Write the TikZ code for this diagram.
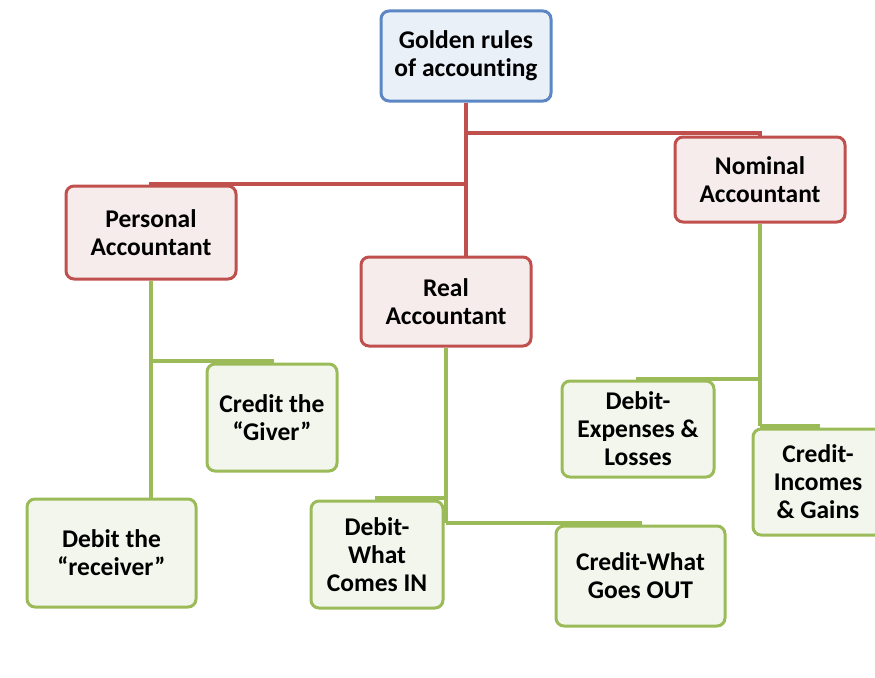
\documentclass[tikz,border=0pt]{standalone}
\usepackage{fontspec}
\setmainfont[Ligatures=NoCommon]{Carlito}
\usetikzlibrary{positioning}

\definecolor{rootdraw}{HTML}{5B87C4}
\definecolor{rootfill}{HTML}{EAF0F8}
\definecolor{acctdraw}{HTML}{C0504D}
\definecolor{acctfill}{HTML}{F6ECEB}
\definecolor{ruledraw}{HTML}{9BBB59}
\definecolor{rulefill}{HTML}{F3F6EC}

\tikzset{
  box/.style={rounded corners=8pt, line width=3pt, align=center, inner sep=0pt,
    font=\bfseries\fontsize{25.5}{28}\selectfont},
  rootbox/.style={box, draw=rootdraw, fill=rootfill},
  acctbox/.style={box, draw=acctdraw, fill=acctfill},
  rulebox/.style={box, draw=ruledraw, fill=rulefill},
  redlink/.style={draw=acctdraw, line width=3.4pt},
  greenlink/.style={draw=ruledraw, line width=3.4pt}
}

\begin{document}
\begin{tikzpicture}[x=1pt, y=-1pt]
  \useasboundingbox (0, 0) rectangle (875, 677);

  % branch points
  \coordinate (upper) at (466, 133);
  \coordinate (lower) at (466, 184);
  \coordinate (persjoin) at (151, 361);
  \coordinate (realjoin) at (446, 498);
  \coordinate (realjoinb) at (446, 523);
  \coordinate (nomjoin) at (760, 379);
  \coordinate (nomjoinb) at (760, 426);

  \node[rootbox, minimum width=170, minimum height=90] (root) at (466, 56)
    {Golden rules\\of accounting};

  \node[acctbox, minimum width=170, minimum height=93] (personal) at (151, 232.5)
    {Personal\\Accountant};
  \node[acctbox, minimum width=170, minimum height=89] (real) at (446, 301.5)
    {Real\\Accountant};
  \node[acctbox, minimum width=170, minimum height=85] (nominal) at (760, 179.5)
    {Nominal\\Accountant};

  \node[rulebox, minimum width=130, minimum height=107] (giver) at (272, 417.5)
    {Credit the\\“Giver”};
  \node[rulebox, minimum width=169, minimum height=108] (receiver) at (111.5, 553)
    {Debit the\\“receiver”};
  \node[rulebox, minimum width=132, minimum height=107] (comesin) at (377, 554.5)
    {Debit-\\What\\Comes IN};
  \node[rulebox, minimum width=169, minimum height=100] (goesout) at (640.5, 576)
    {Credit-What\\Goes OUT};
  \node[rulebox, minimum width=152, minimum height=96] (expenses) at (638, 429)
    {Debit-\\Expenses \&\\Losses};
  \node[rulebox, minimum width=130, minimum height=106] (incomes) at (818, 482)
    {Credit-\\Incomes\\\& Gains};

  \draw[redlink] (root.south) -- (root.south |- real.north);
  \draw[redlink] (upper) -| (nominal.north);
  \draw[redlink] (lower) -| (personal.north);

  \draw[greenlink] (personal.south) -- (personal.south |- receiver.north);
  \draw[greenlink] (persjoin) -| (giver.north);
  \draw[greenlink] (real.south) -- (realjoinb);
  \draw[greenlink] (realjoin) -| (comesin.north);
  \draw[greenlink] (realjoinb) -| (goesout.north);
  \draw[greenlink] (nominal.south) -- (nomjoinb);
  \draw[greenlink] (nomjoin) -| (expenses.north);
  \draw[greenlink] (nomjoinb) -| (incomes.north);

\end{tikzpicture}
\end{document}
